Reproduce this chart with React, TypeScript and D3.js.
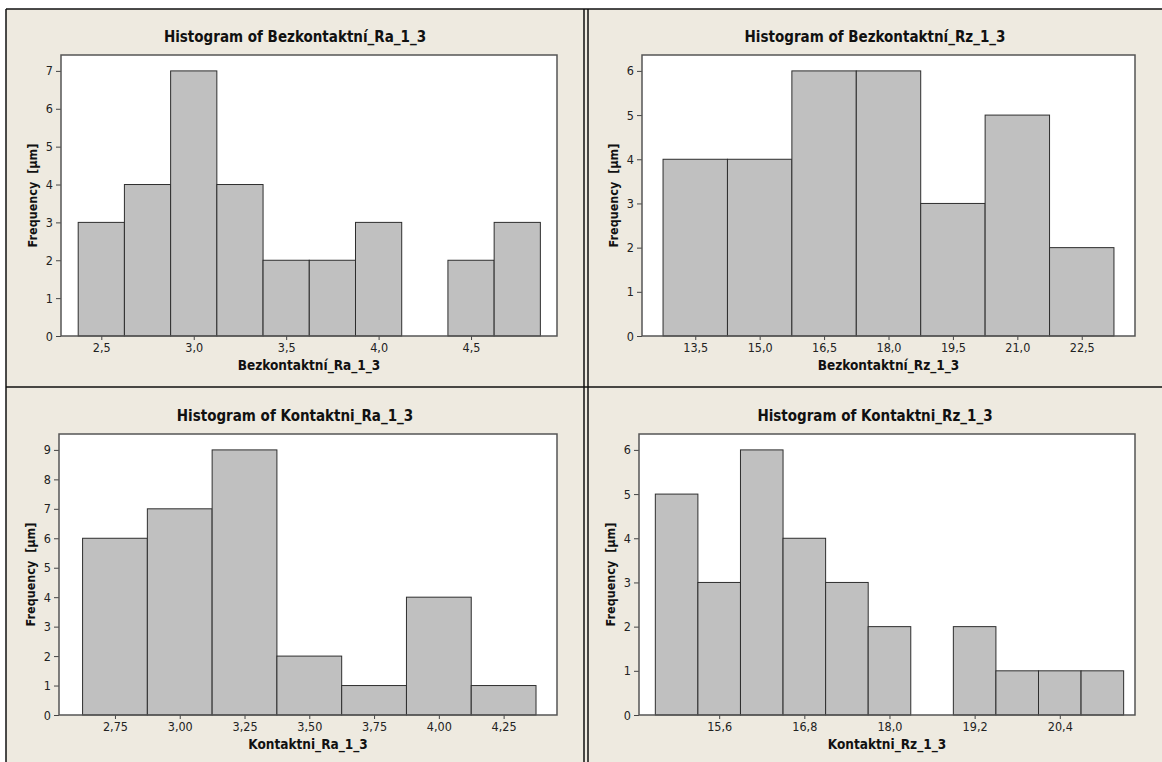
import * as d3 from "d3";
import { useEffect, useRef } from "react";

const raBezMidpoints = [2.5, 2.75, 3.0, 3.25, 3.5, 3.75, 4.0, 4.25, 4.5, 4.75];
const raBezCounts = [3, 4, 7, 4, 2, 2, 3, 0, 2, 3];
const raBezTicks = [2.5, 3.0, 3.5, 4.0, 4.5];
const raBezDomain = [2.282, 4.965];

const rzBezMidpoints = [13.5, 15.0, 16.5, 18.0, 19.5, 21.0, 22.5];
const rzBezCounts = [4, 4, 6, 6, 3, 5, 2];
const rzBezTicks = [13.5, 15.0, 16.5, 18.0, 19.5, 21.0, 22.5];
const rzBezDomain = [12.26, 23.74];

const raKonMidpoints = [2.75, 3.0, 3.25, 3.5, 3.75, 4.0, 4.25];
const raKonCounts = [6, 7, 9, 2, 1, 4, 1];
const raKonTicks = [2.75, 3.0, 3.25, 3.5, 3.75, 4.0, 4.25];
const raKonDomain = [2.534, 4.456];

const rzKonMidpoints = [15.0, 15.6, 16.2, 16.8, 17.4, 18.0, 18.6, 19.2, 19.8, 20.4, 21.0];
const rzKonCounts = [5, 3, 6, 4, 3, 2, 0, 2, 1, 1, 1];
const rzKonTicks = [15.6, 16.8, 18.0, 19.2, 20.4];
const rzKonDomain = [14.47, 21.46];

const charts = [
  { title: "Histogram of Bezkontaktní_Ra_1_3", xLabel: "Bezkontaktní_Ra_1_3", mids: raBezMidpoints, counts: raBezCounts, ticks: raBezTicks, domain: raBezDomain, digits: 1 },
  { title: "Histogram of Bezkontaktní_Rz_1_3", xLabel: "Bezkontaktní_Rz_1_3", mids: rzBezMidpoints, counts: rzBezCounts, ticks: rzBezTicks, domain: rzBezDomain, digits: 1 },
  { title: "Histogram of Kontaktni_Ra_1_3", xLabel: "Kontaktni_Ra_1_3", mids: raKonMidpoints, counts: raKonCounts, ticks: raKonTicks, domain: raKonDomain, digits: 2 },
  { title: "Histogram of Kontaktni_Rz_1_3", xLabel: "Kontaktni_Rz_1_3", mids: rzKonMidpoints, counts: rzKonCounts, ticks: rzKonTicks, domain: rzKonDomain, digits: 1 },
];

// panel centres and plot frames (page pixels)
const layout = [
  { cx: 295, frame: { x0: 61, x1: 557, y0: 55, y1: 336 } },
  { cx: 875, frame: { x0: 642, x1: 1135, y0: 55, y1: 336 } },
  { cx: 295, frame: { x0: 59, x1: 557, y0: 434, y1: 715 } },
  { cx: 875, frame: { x0: 639, x1: 1135, y0: 434, y1: 715 } },
];

const FONT = "'DejaVu Sans Condensed', 'DejaVu Sans', sans-serif";
const BG = "#eeeae0";

function App() {
  const ref = useRef(null);

  useEffect(() => {
    const svg = d3.select(ref.current);
    svg.selectAll("*").remove();

    svg.append("rect").attr("width", 1162).attr("height", 762).attr("fill", "#fff");
    svg.append("rect").attr("x", 6).attr("y", 9).attr("width", 1156).attr("height", 753).attr("fill", BG);

    charts.forEach((c, i) => {
      const { cx, frame } = layout[i];
      const g = svg.append("g");

      const x = d3.scaleLinear().domain(c.domain).range([frame.x0, frame.x1]);
      const yMax = d3.max(c.counts) * 1.06;
      const y = d3.scaleLinear().domain([0, yMax]).range([frame.y1, frame.y0]);
      const binW = c.mids[1] - c.mids[0];
      const fmt = (v) => d3.format(`.${c.digits}f`)(v).replace(".", ",");

      // plot area
      g.append("rect")
        .attr("x", frame.x0)
        .attr("y", frame.y0)
        .attr("width", frame.x1 - frame.x0)
        .attr("height", frame.y1 - frame.y0)
        .attr("fill", "#fff");

      // title
      g.append("text")
        .attr("x", cx)
        .attr("y", frame.y0 - 13)
        .attr("text-anchor", "middle")
        .attr("font-family", FONT)
        .attr("font-weight", "bold")
        .attr("font-size", 15)
        .attr("fill", "#111")
        .text(c.title);

      // bars
      g.selectAll(".bar")
        .data(c.mids.map((m, j) => ({ m, n: c.counts[j] })).filter((d) => d.n > 0))
        .enter()
        .append("rect")
        .attr("x", (d) => x(d.m - binW / 2))
        .attr("y", (d) => y(d.n))
        .attr("width", (d) => x(d.m + binW / 2) - x(d.m - binW / 2))
        .attr("height", (d) => y(0) - y(d.n))
        .attr("fill", "#c0c0c0")
        .attr("stroke", "#2e2e2e")
        .attr("stroke-width", 1);

      // x axis
      const xAxis = g
        .append("g")
        .attr("transform", `translate(0,${frame.y1})`)
        .call(d3.axisBottom(x).tickValues(c.ticks).tickSize(4).tickPadding(3).tickFormat(fmt));
      xAxis.select(".domain").remove();

      // y axis
      const yAxis = g
        .append("g")
        .attr("transform", `translate(${frame.x0},0)`)
        .call(
          d3
            .axisLeft(y)
            .tickValues(d3.range(0, Math.floor(yMax) + 1))
            .tickSize(5)
            .tickPadding(3)
            .tickFormat(d3.format("d"))
        );
      yAxis.select(".domain").remove();

      [xAxis, yAxis].forEach((a) => {
        a.selectAll("line").attr("stroke", "#444");
        a.selectAll("text").attr("font-family", FONT).attr("font-size", 12.5).attr("fill", "#222");
      });

      // frame border
      g.append("rect")
        .attr("x", frame.x0)
        .attr("y", frame.y0)
        .attr("width", frame.x1 - frame.x0)
        .attr("height", frame.y1 - frame.y0)
        .attr("fill", "none")
        .attr("stroke", "#555")
        .attr("stroke-width", 1.5);

      // axis labels
      g.append("text")
        .attr("x", (frame.x0 + frame.x1) / 2)
        .attr("y", frame.y1 + 34)
        .attr("text-anchor", "middle")
        .attr("font-family", FONT)
        .attr("font-weight", "bold")
        .attr("font-size", 13.5)
        .attr("fill", "#111")
        .text(c.xLabel);

      g.append("text")
        .attr("transform", `translate(${frame.x0 - 24},${(frame.y0 + frame.y1) / 2}) rotate(-90)`)
        .attr("text-anchor", "middle")
        .attr("font-family", FONT)
        .attr("font-weight", "bold")
        .attr("font-size", 12.5)
        .attr("fill", "#111")
        .style("white-space", "pre")
        .text("Frequency  [µm]");
    });

    // panel borders
    const lines = [
      [6, 9, 1162, 9],
      [6, 9, 6, 762],
      [584, 9, 584, 762],
      [588, 9, 588, 762],
      [6, 387, 1162, 387],
    ];
    svg
      .selectAll(".border")
      .data(lines)
      .enter()
      .append("line")
      .attr("x1", (d) => d[0])
      .attr("y1", (d) => d[1])
      .attr("x2", (d) => d[2])
      .attr("y2", (d) => d[3])
      .attr("stroke", "#111")
      .attr("stroke-width", 1.5);
  }, []);

  return (
    <svg
      ref={ref}
      width={1162}
      height={762}
      style={{ position: "absolute", left: 0, top: 0 }}
    />
  );
}

export default App;
